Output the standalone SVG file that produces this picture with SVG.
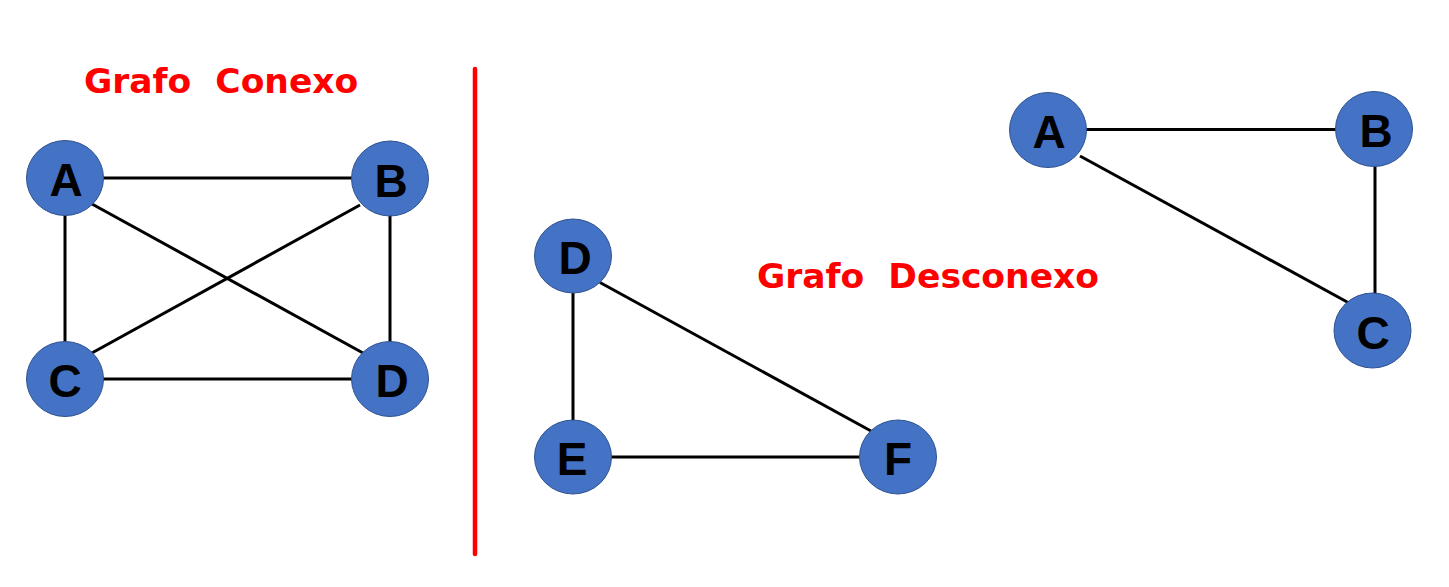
<svg xmlns="http://www.w3.org/2000/svg" width="1449" height="587" viewBox="0 0 1449 587">
<style>
.edge{stroke:#000;stroke-width:3;fill:none}
.node ellipse{fill:#4472C4;stroke:#2F528F;stroke-width:1}
.node text{font-family:"Liberation Sans",Arial,sans-serif;font-weight:bold;font-size:46px;fill:#000;text-anchor:middle}
.title{font-family:"DejaVu Sans",sans-serif;font-weight:bold;font-size:34.5px;fill:#FF0000}
</style>
<rect width="1449" height="587" fill="#fff"/>
<text class="title" x="84" y="93" xml:space="preserve">Grafo  Conexo</text>
<text class="title" x="757" y="288" xml:space="preserve">Grafo  Desconexo</text>
<line x1="475" y1="69" x2="475" y2="554" stroke="#FF0000" stroke-width="4.5" stroke-linecap="round"/>
<g id="connectors">
<line class="edge" x1="65" y1="178" x2="390" y2="178"/>
<line class="edge" x1="65" y1="178" x2="65" y2="379"/>
<line class="edge" x1="390" y1="178" x2="390" y2="379"/>
<line class="edge" x1="65" y1="379" x2="390" y2="379"/>
<line class="edge" x1="92" y1="204" x2="363" y2="353"/>
<line class="edge" x1="360" y1="205" x2="91" y2="353.5"/>
<line class="edge" x1="573" y1="256" x2="573" y2="457"/>
<line class="edge" x1="573" y1="457" x2="898" y2="457"/>
<line class="edge" x1="600" y1="282.5" x2="871" y2="431"/>
<line class="edge" x1="1048" y1="129.5" x2="1374" y2="129.5"/>
<line class="edge" x1="1375" y1="129" x2="1375" y2="330"/>
<line class="edge" x1="1080" y1="156" x2="1349" y2="303"/>
</g>
<g id="node-A1" class="node"><ellipse cx="65" cy="178" rx="38.5" ry="37.5"/><text x="66" y="196">A</text></g>
<g id="node-B1" class="node"><ellipse cx="390" cy="178.5" rx="38.5" ry="37.5"/><text x="391" y="196.5">B</text></g>
<g id="node-C1" class="node"><ellipse cx="65" cy="379" rx="38.5" ry="37.5"/><text x="65" y="397">C</text></g>
<g id="node-D1" class="node"><ellipse cx="390" cy="379" rx="38.5" ry="37.5"/><text x="392" y="397">D</text></g>
<g id="node-D2" class="node"><ellipse cx="573" cy="256" rx="38.5" ry="37"/><text x="575" y="274">D</text></g>
<g id="node-E" class="node"><ellipse cx="573" cy="457" rx="38.5" ry="37"/><text x="572" y="475">E</text></g>
<g id="node-F" class="node"><ellipse cx="898" cy="457" rx="38.5" ry="37"/><text x="898" y="475">F</text></g>
<g id="node-A2" class="node"><ellipse cx="1048" cy="130" rx="38.5" ry="37.5"/><text x="1049" y="148">A</text></g>
<g id="node-B2" class="node"><ellipse cx="1374" cy="129" rx="38.5" ry="37.5"/><text x="1376" y="147">B</text></g>
<g id="node-C2" class="node"><ellipse cx="1372.5" cy="330.5" rx="38.5" ry="37.5"/><text x="1373" y="348.5">C</text></g>
</svg>
